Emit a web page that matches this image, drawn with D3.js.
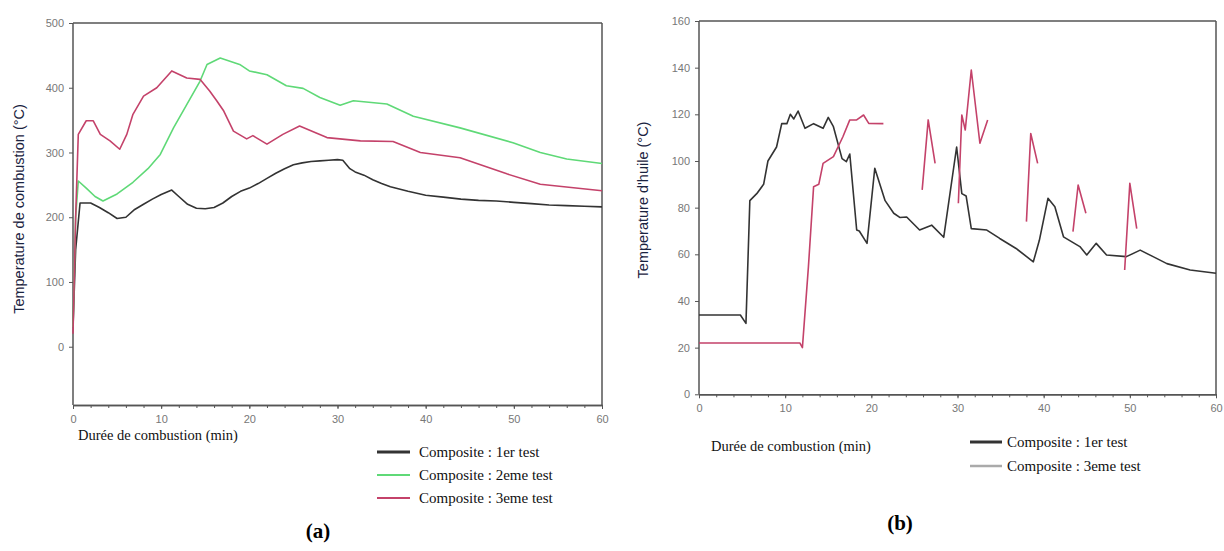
<!DOCTYPE html>
<html><head><meta charset="utf-8">
<script src="https://cdn.jsdelivr.net/npm/d3@7"></script>
<style>body{margin:0;background:#fff}svg{display:block}</style>
</head><body>
<svg id="c" width="1224" height="551"></svg>
<script>
// ---- Panel (a): combustion temperature (°C) vs time (min)
const aTest1T = [0,0.3,0.8,2,3,4,5,6,7,8,9,10,11.2,12,13,14,15,16,17,18,19,20,21,22,23,24,25,26,27,28,29,30,30.6,31.4,32,33,34,35,36,38,40,42,44,46,48,50,52,54,56,58,60];
const aTest1V = [30,150,222,222,215,207,198,200,212,220,228,235,242,232,220,214,213,215,222,232,240,245,252,260,268,275,281,284,286,287,288,289,288,275,270,265,258,252,247,240,234,231,228,226,225,223,221,219,218,217,216];
const aTest2T = [0,0.3,0.6,1.5,2.5,3.4,5,6.8,8.5,9.9,11.4,12.9,14.4,15.2,16.7,18.9,20,22,24.2,26.1,28,30.3,31.8,35.6,38.6,43.9,49.9,53,56,60];
const aTest2V = [30,200,256,245,232,225,236,254,275,297,338,374,410,436,446,436,426,420,403,399,385,373,380,375,356,338,315,300,290,283];
const aTest3T = [0,0.3,0.6,1.5,2.3,3.1,4.2,5.3,6.1,6.8,8,9.5,11.2,12.9,14.4,15.5,16.3,17.1,18.2,19.7,20.4,22,23.8,25.7,28.8,32.6,36.3,39.4,43.9,49.2,53,60];
const aTest3V = [20,200,328,349,349,328,318,305,328,359,387,400,426,415,413,395,380,364,333,321,326,313,328,341,323,318,317,300,292,267,251,241];
const aYTicks = [0,100,200,300,400,500];
const xTicks = [0,10,20,30,40,50,60];
const aLegend = ["Composite : 1er test","Composite : 2eme test","Composite : 3eme test"];

// ---- Panel (b): oil temperature (°C) vs time (min)
const bTest1T = [0,4.8,5.45,5.9,6.7,7.5,8,9,9.6,10.2,10.6,11,11.5,12.3,13.3,14.4,15,15.6,16.6,17.1,17.5,18.3,18.6,19.5,20.4,21.6,22.6,23.3,24.1,25.6,27,28.4,29.9,30.5,31,31.6,33.4,34.9,36.8,38.8,39.5,40.5,41.3,42.3,44.2,45,46.1,47.3,49.6,51.2,52.7,54.3,57,60];
const bTest1V = [34,34,30.4,83,86,90,100,106,116,116,120,118,121.4,114,116,114,118.7,114.7,101,99.7,103,70.4,70,64.7,96.9,83,77.6,75.8,76,70.4,72.5,67.3,106,86,85,71,70.4,66.8,62.5,56.8,66,84,80.4,67.5,63.3,59.7,64.7,59.7,59,61.8,59,56,53.3,51.9];
// test 3 is recorded in separate segments (gaps between them)
const bTest3Seg = [0,0,0,0,0,0,0,0,0,0,0,0,0,0, 1,1,1, 2,2,2,2,2,2, 3,3,3, 4,4,4, 5,5,5];
const bTest3T = [0,11.7,12,12.7,13.3,13.9,14.4,15.6,16.7,17.5,18.3,19.1,19.7,21.4, 25.9,26.6,27.4, 30.1,30.5,30.9,31.6,32.6,33.5, 38,38.5,39.3, 43.4,44,44.9, 49.4,50,50.8];
const bTest3V = [22,22,20,54.7,89,90,99,101.9,110.4,117.6,117.6,119.7,116.1,116, 87.6,117.6,99, 81.9,119.7,113.3,139,107.6,117.6, 74,111.8,99, 69.7,89.7,77.6, 53.3,90.4,71];
const bYTicks = [0,20,40,60,80,100,120,140,160];
const bLegend = ["Composite : 1er test","Composite : 3eme test"];

const colors = {black:"#333333", green:"#5fd977", red:"#c4426a", gray:"#aaaaaa"};
const svg = d3.select("#c");
const sans = "Arial, 'Liberation Sans', sans-serif";
const serif = "'Times New Roman', 'Liberation Serif', serif";

function axisStyle(g){
  g.selectAll("path.domain").attr("stroke","#555").attr("stroke-width",1.5);
  g.selectAll("line").attr("stroke","#555");
  g.selectAll("text").attr("fill","#777").attr("font-family",sans).attr("font-size",11);
}

function panel(o){
  const x = d3.scaleLinear().domain([0,60]).range([o.x0,o.x1]);
  const y = d3.scaleLinear().domain(o.yDom).range([o.y0,o.y1]);
  const g = svg.append("g");
  g.append("line").attr("x1",o.x0).attr("x2",o.x1).attr("y1",o.y1).attr("y2",o.y1).attr("stroke","#555").attr("stroke-width",1.5);
  g.append("line").attr("x1",o.x1).attr("x2",o.x1).attr("y1",o.y1).attr("y2",o.y0).attr("stroke","#555").attr("stroke-width",1.5);
  const gx = g.append("g").attr("transform",`translate(0,${o.y0})`)
    .call(d3.axisBottom(x).tickValues(d3.range(0,61,2)).tickFormat("").tickSizeInner(3).tickSizeOuter(0));
  axisStyle(gx);
  const gx2 = g.append("g").attr("transform",`translate(0,${o.y0})`)
    .call(d3.axisBottom(x).tickValues(xTicks).tickFormat(d3.format("d")).tickSizeInner(4).tickSizeOuter(0).tickPadding(6));
  axisStyle(gx2);
  const gy = g.append("g").attr("transform",`translate(${o.x0},0)`)
    .call(d3.axisLeft(y).tickValues(o.yTicks).tickFormat(d3.format("d")).tickSizeInner(4).tickSizeOuter(0).tickPadding(5));
  axisStyle(gy);
  gy.select("path.domain").attr("d",`M0,${o.y0}V${o.y1}`);
  return {x,y,g};
}

// Panel (a)
const A = panel({x0:73,x1:602,y0:405,y1:23,yDom:[-90,500],yTicks:aYTicks});
const lineA = d3.line().x(d=>A.x(d[0])).y(d=>A.y(d[1]));
[[aTest1T,aTest1V,colors.black],[aTest2T,aTest2V,colors.green],[aTest3T,aTest3V,colors.red]].forEach(([t,v,c])=>{
  A.g.append("path").datum(t.map((d,i)=>[d,v[i]])).attr("d",lineA).attr("fill","none").attr("stroke",c).attr("stroke-width",1.6).attr("stroke-linejoin","round");
});
svg.append("text").attr("transform","translate(24,209) rotate(-90)").attr("text-anchor","middle")
  .attr("font-family",sans).attr("font-size",14.5).attr("fill","#1a2340").text("Temperature de combustion (°C)");
svg.append("text").attr("x",78).attr("y",440).attr("font-family",serif).attr("font-size",14.5).attr("fill","#111").text("Durée de combustion (min)");
[colors.black,colors.green,colors.red].forEach((c,i)=>{
  const yy = 452+i*23;
  svg.append("line").attr("x1",377).attr("x2",410).attr("y1",yy).attr("y2",yy).attr("stroke",c).attr("stroke-width",i===0?3:2);
  svg.append("text").attr("x",419).attr("y",yy+5).attr("font-family",serif).attr("font-size",15).attr("fill","#111").text(aLegend[i]);
});
svg.append("text").attr("x",318).attr("y",538).attr("text-anchor","middle").attr("font-family",serif).attr("font-weight","bold").attr("font-size",21).attr("fill","#000").text("(a)");

// Panel (b)
const B = panel({x0:699,x1:1216,y0:394.3,y1:21,yDom:[0,160],yTicks:bYTicks});
const lineB = d3.line().x(d=>B.x(d[0])).y(d=>B.y(d[1]));
B.g.append("path").datum(bTest1T.map((d,i)=>[d,bTest1V[i]])).attr("d",lineB).attr("fill","none").attr("stroke",colors.black).attr("stroke-width",1.6).attr("stroke-linejoin","round");
d3.groups(bTest3T.map((d,i)=>({t:d,v:bTest3V[i],s:bTest3Seg[i]})),d=>d.s).forEach(([s,pts])=>{
  B.g.append("path").datum(pts.map(p=>[p.t,p.v])).attr("d",lineB).attr("fill","none").attr("stroke",colors.red).attr("stroke-width",1.6).attr("stroke-linejoin","round");
});
svg.append("text").attr("transform","translate(648,200) rotate(-90)").attr("text-anchor","middle")
  .attr("font-family",sans).attr("font-size",14.5).attr("fill","#1a2340").text("Temperature d'huile (°C)");
svg.append("text").attr("x",711).attr("y",451).attr("font-family",serif).attr("font-size",14.5).attr("fill","#111").text("Durée de combustion (min)");
[colors.black,colors.gray].forEach((c,i)=>{
  const yy = 442+i*24;
  svg.append("line").attr("x1",970).attr("x2",1002).attr("y1",yy).attr("y2",yy).attr("stroke",c).attr("stroke-width",i===0?3:2.5);
  svg.append("text").attr("x",1007).attr("y",yy+5).attr("font-family",serif).attr("font-size",15).attr("fill","#111").text(bLegend[i]);
});
svg.append("text").attr("x",900).attr("y",530).attr("text-anchor","middle").attr("font-family",serif).attr("font-weight","bold").attr("font-size",21).attr("fill","#000").text("(b)");
</script>
</body></html>
